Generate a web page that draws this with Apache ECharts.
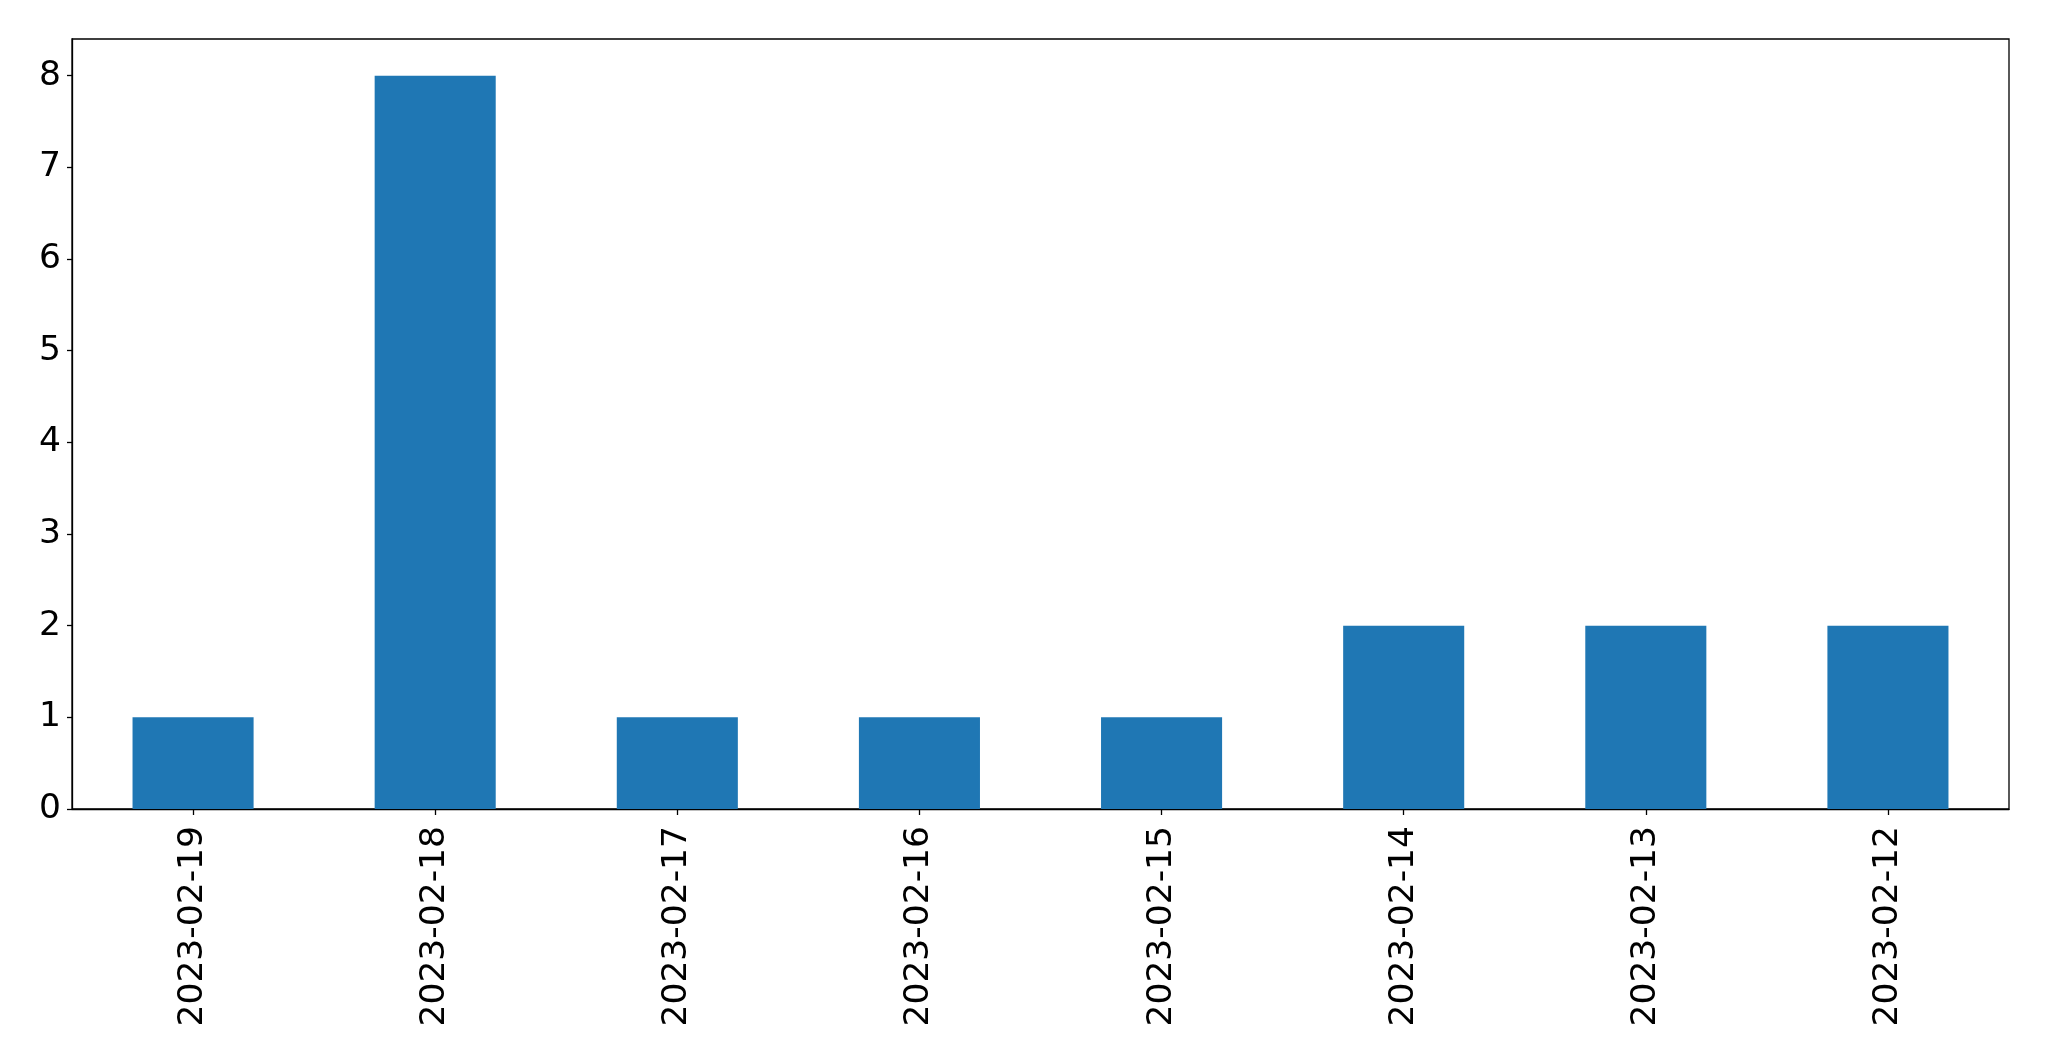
<!DOCTYPE html>
<html><head><meta charset="utf-8">
<script src="https://cdn.jsdelivr.net/npm/echarts@6/dist/echarts.min.js"></script>
<style>html,body{margin:0;padding:0;background:#fff;}#c{width:2049px;height:1061px;}</style>
</head><body><div id="c"></div>
<script>
const categories = ['2023-02-19','2023-02-18','2023-02-17','2023-02-16','2023-02-15','2023-02-14','2023-02-13','2023-02-12'];
const values = [1, 8, 1, 1, 1, 2, 2, 2];
const yTicks = [0, 1, 2, 3, 4, 5, 6, 7, 8];

const chart = echarts.init(document.getElementById('c'));
const font = 'DejaVu Sans';
chart.setOption({
  animation: false,
  grid: { left: 72, right: 40, top: 39, bottom: 252, show: true, borderColor: '#000', borderWidth: 1.3, backgroundColor: 'transparent' },
  xAxis: {
    type: 'category', data: categories, boundaryGap: true,
    axisLine: { show: true, lineStyle: { color: '#000', width: 1.3 } },
    axisTick: { show: true, alignWithLabel: true, length: 6, lineStyle: { color: '#000', width: 1.3 } },
    axisLabel: { rotate: 90, margin: 17, color: '#000', fontFamily: font, fontSize: 34.5, interval: 0 },
    splitLine: { show: false }
  },
  yAxis: {
    type: 'value', min: 0, max: 8.4, interval: 1,
    axisLine: { show: true, lineStyle: { color: '#000', width: 1.3 } },
    axisTick: { show: true, length: 5, customValues: yTicks, lineStyle: { color: '#000', width: 1.3 } },
    axisLabel: { customValues: yTicks, margin: 11, color: '#000', fontFamily: font, fontSize: 34.5 },
    splitLine: { show: false }
  },
  series: [{
    type: 'bar', data: values, barWidth: '50%',
    itemStyle: { color: '#1f77b4' }
  }]
});
</script></body></html>
